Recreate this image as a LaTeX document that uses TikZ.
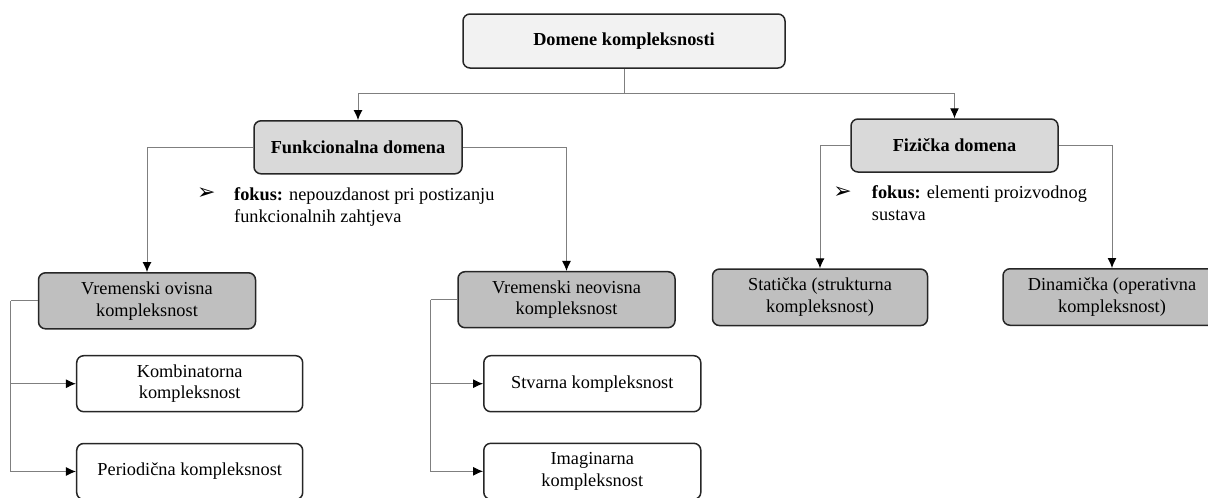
\documentclass[tikz,border=0pt]{standalone}
\usepackage{fontspec}
\setmainfont{Liberation Serif}
\newfontfamily\symfont{DejaVu Sans}
\usetikzlibrary{arrows.meta}
\definecolor{lvlA}{HTML}{F2F2F2}
\definecolor{lvlB}{HTML}{D9D9D9}
\definecolor{lvlC}{HTML}{BFBFBF}
\definecolor{edgec}{HTML}{262626}
\definecolor{linec}{HTML}{7F7F7F}
\begin{document}
\begin{tikzpicture}[x=1pt,y=-1pt,
  txt/.style={font=\fontsize{18.3}{21.6}\selectfont},
  box/.style={txt, draw=edgec, line width=1.5pt, rounded corners=7pt, inner sep=0pt, align=center},
  rootbox/.style={box, fill=lvlA, font=\fontsize{18.3}{21.6}\selectfont\bfseries},
  dombox/.style={box, fill=lvlB, font=\fontsize{18.3}{21.6}\selectfont\bfseries},
  subbox/.style={box, fill=lvlC},
  leafbox/.style={box, fill=white},
  conn/.style={draw=linec, line width=1pt},
  arr/.style={conn, -{Latex[length=10pt,width=9pt,color=black]}},
  bul/.style={font=\symfont\fontsize{22}{24}\selectfont, inner sep=0pt},
  focus/.style={txt, inner sep=0pt, align=left, anchor=base west}
]
\useasboundingbox (0,0) rectangle (1208,498);

% nodes
\node[rootbox, minimum width=322pt, minimum height=54pt] (root) at (624,41) {Domene kompleksnosti};
\node[dombox, minimum width=208pt, minimum height=53pt] (fun) at (358,147.3) {Funkcionalna domena};
\node[dombox, minimum width=207pt, minimum height=53pt] (fiz) at (954.5,145.5) {Fizička domena};

\node[subbox, minimum width=217pt, minimum height=56pt] (vo) at (147,300.8) {Vremenski ovisna\\kompleksnost};
\node[subbox, minimum width=217pt, minimum height=56pt] (vn) at (566.5,299.7) {Vremenski neovisna\\kompleksnost};
\node[subbox, minimum width=215pt, minimum height=56.5pt] (st) at (820,297.3) {Statička (strukturna\\kompleksnost)};
\node[subbox, minimum width=218pt, minimum height=56.5pt] (di) at (1112,297) {Dinamička (operativna\\kompleksnost)};

\node[leafbox, minimum width=226pt, minimum height=56pt] (ko) at (189.7,383.7) {Kombinatorna\\kompleksnost};
\node[leafbox, minimum width=226pt, minimum height=56pt] (pe) at (189.7,471.5) {Periodična kompleksnost};
\node[leafbox, minimum width=217pt, minimum height=56pt] (sv) at (592.3,383.7) {Stvarna kompleksnost};
\node[leafbox, minimum width=217pt, minimum height=56pt] (im) at (592.3,471.3) {Imaginarna\\kompleksnost};

% focus notes
\node[bul] (b1) at (206.3,193.7) {➢};
\node[focus] (f1) at (234,222.3) {\textbf{fokus:} nepouzdanost pri postizanju\\funkcionalnih zahtjeva};
\node[bul] (b2) at (842.5,193) {➢};
\node[focus] (f2) at (871.7,220) {\textbf{fokus:} elementi proizvodnog\\sustava};

% connectors
\coordinate (rj) at (624,93.5);
\draw[conn] (root.south) -- (rj);
\draw[arr] (rj) -| (fun.north);
\draw[arr] (rj) -| (fiz.north);

\draw[arr] (fun.west) -| (vo.north);
\draw[arr] (fun.east) -| (vn.north);
\draw[arr] (fiz.west) -| (st.north);
\draw[arr] (fiz.east) -| (di.north);

\coordinate (voj) at (10.7,300.8);
\draw[conn] (vo.west) -- (voj);
\draw[arr] (voj) |- (ko.west);
\draw[arr] (voj) |- (pe.west);

\coordinate (vnj) at (430.7,299.7);
\draw[conn] (vn.west) -- (vnj);
\draw[arr] (vnj) |- (sv.west);
\draw[arr] (vnj) |- (im.west);
\end{tikzpicture}
\end{document}
